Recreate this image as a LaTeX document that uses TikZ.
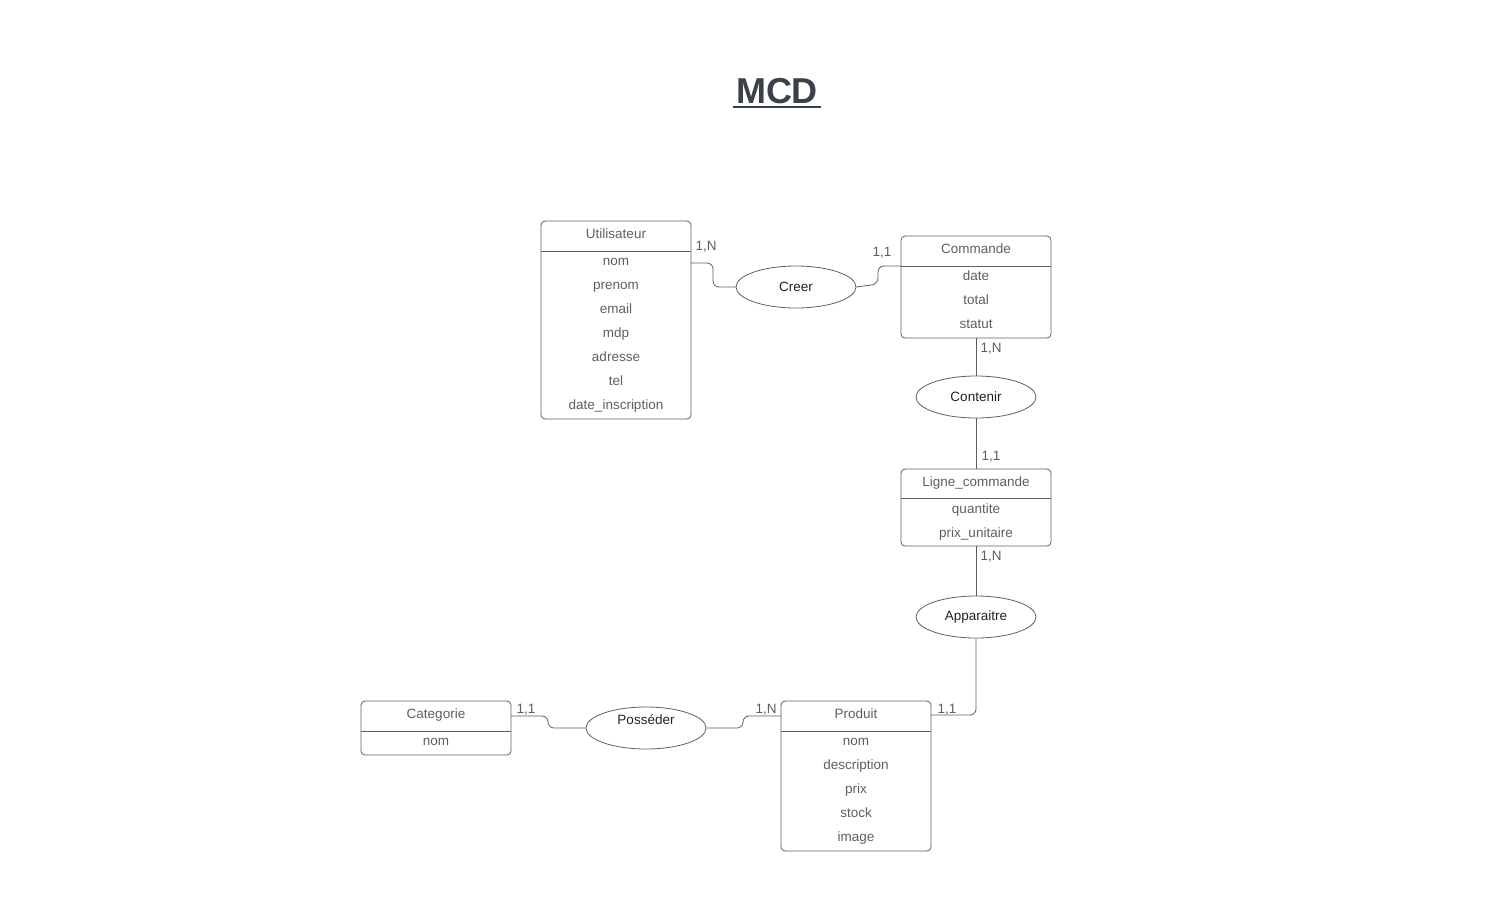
\documentclass[tikz,border=0pt]{standalone}
\usepackage{fontspec}
\setmainfont{Liberation Sans}
\usetikzlibrary{shapes.geometric}
\definecolor{edge}{HTML}{5C5F66}
\definecolor{attr}{HTML}{5A5E66}
\definecolor{titlec}{HTML}{3A414A}
\definecolor{rel}{HTML}{222222}
\tikzset{
  entity/.style={draw=edge, line width=0.8pt, rounded corners=4pt, minimum width=150pt, inner sep=0pt},
  relation/.style={draw=edge, line width=0.8pt, ellipse, minimum width=120pt, minimum height=42pt, inner sep=0pt, text=rel, font=\fontsize{13.5}{16}\selectfont},
  attrtext/.style={text=attr, font=\fontsize{13.5}{16}\selectfont, inner sep=0pt, text height=10pt, text depth=3pt},
  card/.style={attrtext},
  link/.style={draw=edge, line width=0.8pt, rounded corners=6pt},
  hdr/.style={draw=edge, line width=0.8pt}
}
\begin{document}
\begin{tikzpicture}[x=1pt,y=-1pt]
\useasboundingbox (0,0) rectangle (1510,919);
% title
\node[text=titlec, font=\fontsize{36}{40}\selectfont\bfseries, inner sep=0pt] (title) at (777,91) {MCD};
\draw[titlec, line width=2.5pt] (733,107) -- (821,107);

% Utilisateur
\node[entity, minimum height=198pt] (U) at (616,320) {};
\draw[hdr] (541,251) -- (691,251);
\node[attrtext] (Ut) at (616,235) {Utilisateur};
\node[attrtext] (U1) at (616,262) {nom};
\node[attrtext] (U2) at (616,286) {prenom};
\node[attrtext] (U3) at (616,310) {email};
\node[attrtext] (U4) at (616,334) {mdp};
\node[attrtext] (U5) at (616,358) {adresse};
\node[attrtext] (U6) at (616,382) {tel};
\node[attrtext] (U7) at (616,406) {date\_inscription};

% Commande
\node[entity, minimum height=102pt] (C) at (976,287) {};
\draw[hdr] (901,266) -- (1051,266);
\node[attrtext] (Ct) at (976,250) {Commande};
\node[attrtext] (C1) at (976,277) {date};
\node[attrtext] (C2) at (976,301) {total};
\node[attrtext] (C3) at (976,325) {statut};

% Ligne_commande
\node[entity, minimum height=77pt] (L) at (976,507.5) {};
\draw[hdr] (901,498) -- (1051,498);
\node[attrtext] (Lt) at (976,483) {Ligne\_commande};
\node[attrtext] (L1) at (976,510) {quantite};
\node[attrtext] (L2) at (976,534) {prix\_unitaire};

% Produit
\node[entity, minimum height=150pt] (P) at (856,776) {};
\draw[hdr] (781,731) -- (931,731);
\node[attrtext] (Pt) at (856,715) {Produit};
\node[attrtext] (P1) at (856,742) {nom};
\node[attrtext] (P2) at (856,766) {description};
\node[attrtext] (P3) at (856,790) {prix};
\node[attrtext] (P4) at (856,814) {stock};
\node[attrtext] (P5) at (856,838) {image};

% Categorie
\node[entity, minimum height=54pt] (K) at (436,728) {};
\draw[hdr] (361,731) -- (511,731);
\node[attrtext] (Kt) at (436,715) {Categorie};
\node[attrtext] (K1) at (436,742) {nom};

% relations
\node[relation] (Creer) at (796,287) {Creer};
\node[relation] (Contenir) at (976,397) {Contenir};
\node[relation] (App) at (976,617) {Apparaitre};
\node[relation] (Pos) at (646,728) {};
\node[attrtext, text=rel] (PosT) at (646,721) {Posséder};

% connection points
\coordinate (u1) at (691,263);
\coordinate (c1) at (901,266);
\coordinate (k1) at (511,716);
\coordinate (p1) at (781,716);
\coordinate (p2) at (931,715);

% connectors
\draw[link] (u1) -- (713,263) -- (713,287) -- (Creer.west);
\draw[link] (Creer.east) -- (878,284) -- (878,266) -- (c1);
\draw[hdr] (C.south) -- (Contenir.north);
\draw[hdr] (Contenir.south) -- (L.north);
\draw[hdr] (L.south) -- (App.north);
\draw[link] (App.south) |- (p2);
\draw[link] (k1) -- (548,716) -- (548,728) -- (Pos.west);
\draw[link] (Pos.east) -- (743,728) -- (743,716) -- (p1);

% cardinalities
\node[card] (n1) at (706,247) {1,N};
\node[card] (n2) at (882,253) {1,1};
\node[card] (n3) at (991,349) {1,N};
\node[card] (n4) at (991,457) {1,1};
\node[card] (n5) at (991,557) {1,N};
\node[card] (n6) at (947,710) {1,1};
\node[card] (n7) at (526,710) {1,1};
\node[card] (n8) at (766,710) {1,N};
\end{tikzpicture}
\end{document}
